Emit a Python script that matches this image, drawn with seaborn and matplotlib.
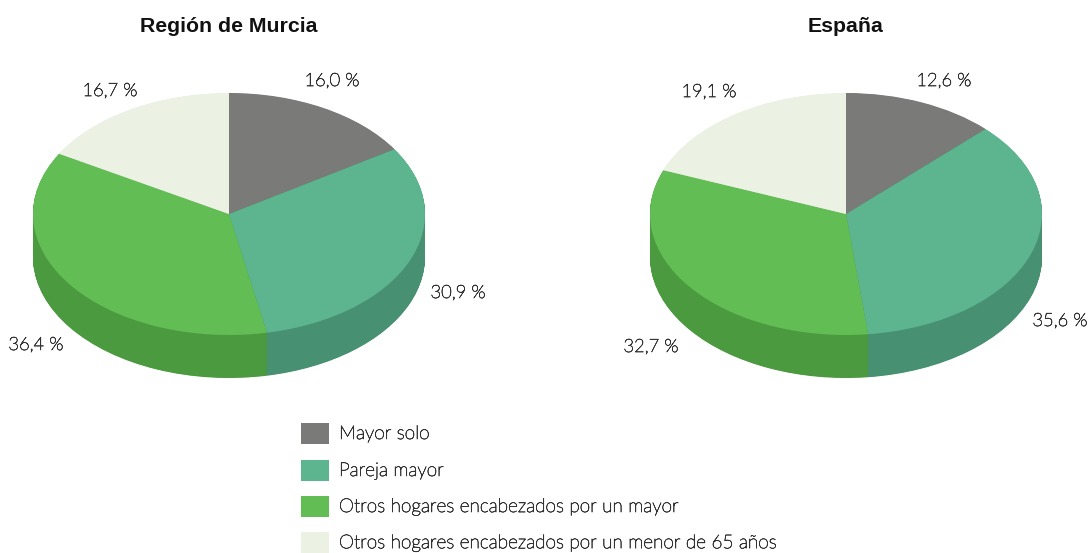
import matplotlib
matplotlib.use("Agg")
import matplotlib.pyplot as plt
import matplotlib.patheffects as pe
import seaborn as sns

sns.set_theme(style="white")
plt.rcParams['font.family'] = ['Lato', 'DejaVu Sans']

categories = ["Mayor solo", "Pareja mayor", "Otros hogares encabezados por un mayor",
              "Otros hogares encabezados por un menor de 65 años"]
murcia = [16.0, 30.9, 36.4, 16.7]
espana = [12.6, 35.6, 32.7, 19.1]
titles = ["Región de Murcia", "España"]
top_colors = sns.color_palette(["#7a7a78", "#5cb58f", "#62bd55", "#ebf1e3"])
side_colors = sns.color_palette(["#636361", "#479072", "#4c9a3f", "#c9cfc0"])

W, H = 1090, 553
fig = plt.figure(figsize=(W / 100, H / 100), dpi=100, facecolor="white")

RX, RY = 196, 121
thin = [pe.withStroke(linewidth=0.45, foreground="#333333")]


def pie_axes(cx, cy):
    left = cx - 220
    top = cy - 140
    w, h = 440, 220
    ax = fig.add_axes([left / W, 1 - (top + h) / H, w / W, h / H])
    return ax


def draw(values, title, cx, cy, labels):
    ax = pie_axes(cx, cy)
    flat = dict(linewidth=0, edgecolor="none")
    for i in range(86, 0, -1):
        ax.pie(values, colors=side_colors, startangle=90, counterclock=False,
               center=(0, -i / 2 / RY), radius=1, frame=True, wedgeprops=flat)
    ax.pie(values, colors=top_colors, startangle=90, counterclock=False,
           center=(0, 0), radius=1, frame=True, wedgeprops=flat)
    ax.set_aspect("auto")
    ax.set_xlim(-220 / RX, 220 / RX)
    ax.set_ylim(-80 / RY, 140 / RY)
    ax.axis("off")
    fig.text((cx - 0.5) / W, 1 - 27 / H, title, ha="center", va="center", fontsize=15.3,
             fontweight="bold", family=["Liberation Sans"], color="#111111")
    for (lx, ly), v in zip(labels, values):
        fig.text(lx / W, 1 - ly / H, f"{v:.1f} %".replace(".", ","), ha="center", va="center",
                 fontsize=13.2, fontweight="light", color="#333333", path_effects=thin)


draw(murcia, titles[0], 229, 214, [(332, 81), (458, 293), (36, 345), (110, 91)])
draw(espana, titles[1], 846, 214, [(944, 81), (1060, 321), (651, 347), (709, 92)])

legend_ys = [433, 470, 506, 542]
for y, lab, col in zip(legend_ys, categories, top_colors):
    fig.add_artist(plt.Rectangle((301 / W, 1 - (y + 10.5) / H), 28 / W, 21 / H,
                                 transform=fig.transFigure, facecolor=col, edgecolor="none"))
    fig.text(339 / W, 1 - (y + 1) / H, lab, ha="left", va="center", fontsize=13.7,
             fontweight="light", color="#333333", path_effects=thin)

fig.savefig("out.png", dpi=100)
